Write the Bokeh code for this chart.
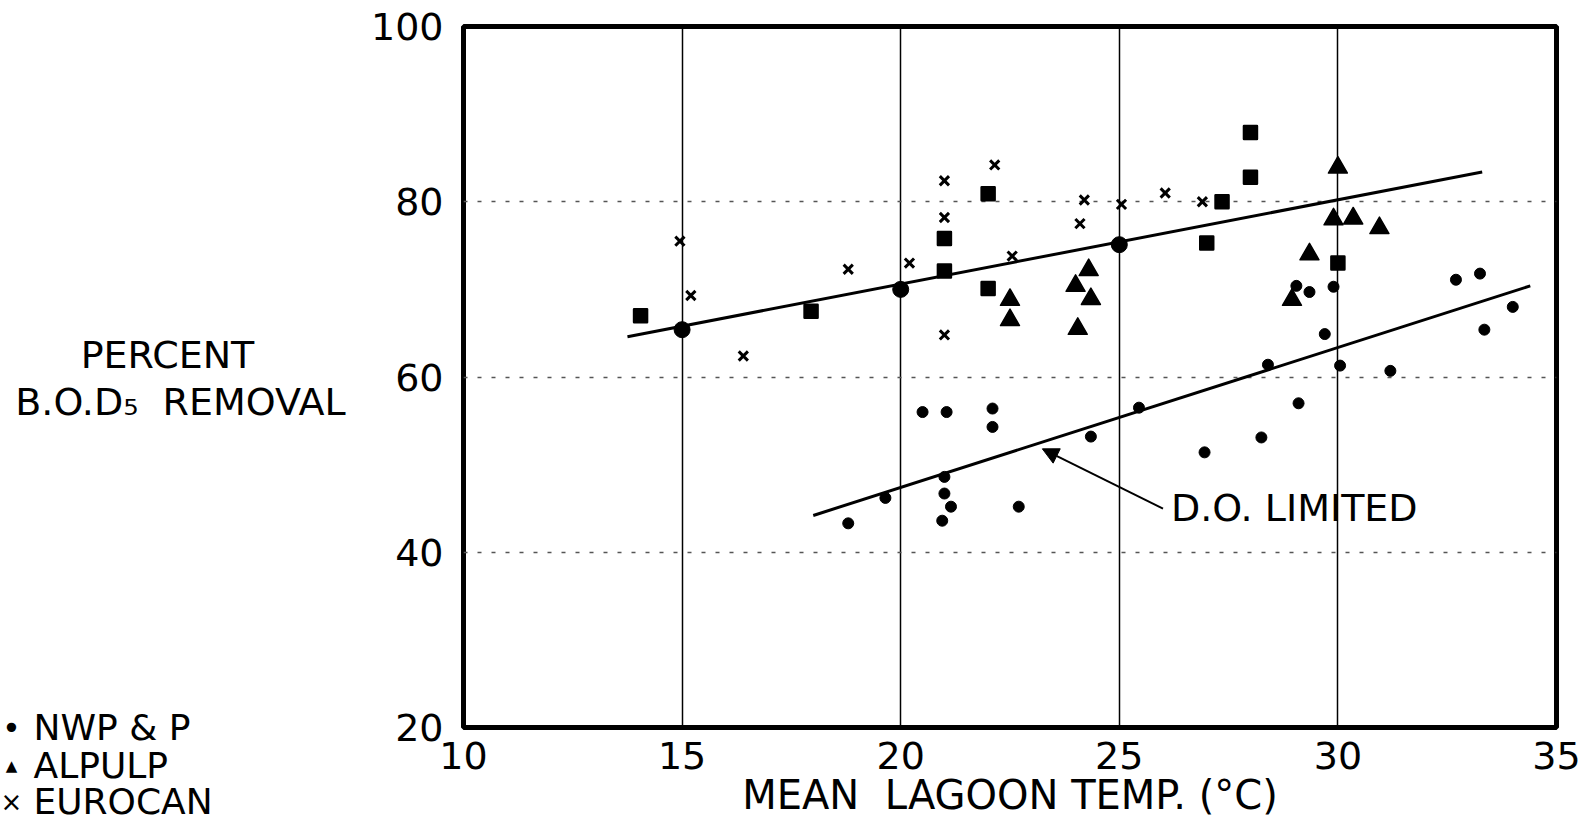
from bokeh.plotting import figure
from bokeh.layouts import row
from bokeh.models import Label, Arrow, NormalHead, FixedTicker, Range1d
from bokeh.core.properties import value
from bokeh.embed import file_html
from bokeh.resources import INLINE

FONT = "DejaVu Sans"

# ---------------- data ----------------
nwp_x = [20.5, 21.05, 22.1, 22.1, 24.35, 25.45, 21.0, 21.0, 21.15, 20.95, 19.65, 18.8, 22.7,
         26.95, 28.25, 29.1, 28.4, 29.7, 30.05, 31.2, 29.05, 29.35, 29.9, 32.7, 33.25, 34.0, 33.35]
nwp_y = [56.0, 56.0, 56.4, 54.3, 53.2, 56.5, 48.6, 46.7, 45.2, 43.6, 46.2, 43.3, 45.2,
         51.4, 53.1, 57.0, 61.4, 64.9, 61.3, 60.7, 70.4, 69.7, 70.3, 71.1, 71.8, 68.0, 65.4]

alpulp_x = [22.5, 22.5, 24.3, 24.0, 24.35, 24.05, 30.0, 29.9, 30.35, 30.95, 29.35, 28.95]
alpulp_y = [68.8, 66.5, 72.2, 70.4, 68.9, 65.5, 83.9, 78.0, 78.1, 77.0, 74.0, 68.8]

eurocan_x = [14.95, 15.2, 16.4, 18.8, 20.2, 21.0, 21.0, 21.0, 22.15, 22.55, 24.1, 24.2, 25.05, 26.05, 26.9]
eurocan_y = [75.5, 69.3, 62.4, 72.3, 73.0, 82.4, 78.2, 64.8, 84.2, 73.8, 77.5, 80.2, 79.7, 81.0, 80.0]

square_x = [14.05, 17.95, 21.0, 21.0, 22.0, 22.0, 27.35, 28.0, 28.0, 27.0, 30.0]
square_y = [67.0, 67.5, 75.8, 72.1, 80.9, 70.1, 80.0, 87.9, 82.8, 75.3, 73.0]

bigdot_x = [15.0, 20.0, 25.0]
bigdot_y = [65.4, 70.0, 75.1]

upper_fit_x = [13.75, 33.3]
upper_fit_y = [64.6, 83.4]
lower_fit_x = [18.0, 34.4]
lower_fit_y = [44.2, 70.4]

x_ticks = [10, 15, 20, 25, 30, 35]
y_ticks = [20, 40, 60, 80, 100]
x_grid = [15, 20, 25, 30]
y_grid = [40, 60, 80]

x_title = "MEAN\u00A0\u00A0LAGOON TEMP. (\u00B0C)"
y_title_lines = ["PERCENT", "B.O.D\u2085\u00A0\u00A0REMOVAL"]
legend_names = ["NWP\u00A0&\u00A0P", "ALPULP", "EUROCAN"]
legend_symbols = ["\u2022", "\u25B2", "\u00D7"]

LEFT_W = 350
W, H = 1586, 824

# ---------------- left panel: y title and key ----------------
side = figure(width=LEFT_W, height=H, output_backend="svg", toolbar_location=None,
              title=None, x_range=Range1d(0, LEFT_W), y_range=Range1d(0, H),
              x_axis_type=None, y_axis_type=None,
              min_border=0, min_border_left=0, min_border_right=0,
              min_border_top=0, min_border_bottom=0)
side.frame_align = False
side.grid.visible = False
side.outline_line_color = None
side.background_fill_color = "white"
side.border_fill_color = "white"

# y title (pixel positions measured from the top of the page)
side.text(x=[167, 180], y=[H - 354, H - 401], text=y_title_lines,
          text_font=value(FONT), text_font_size="38px", text_align="center",
          text_baseline="middle", text_color="black")

# key
key_py = [727, 765, 801]
side.text(x=[11], y=[H - key_py[0]], text=[legend_symbols[0]], text_font=value(FONT),
          text_font_size="32px", text_align="center", text_baseline="middle")
side.text(x=[11], y=[H - key_py[1]], text=[legend_symbols[1]], text_font=value(FONT),
          text_font_size="15px", text_align="center", text_baseline="middle")
side.text(x=[11], y=[H - key_py[2]], text=[legend_symbols[2]], text_font=value(FONT),
          text_font_size="26px", text_align="center", text_baseline="middle")
side.text(x=[33, 33, 33], y=[H - v for v in key_py], text=legend_names,
          text_font=value(FONT), text_font_size="36px", text_align="left",
          text_baseline="middle", text_color="black")

# ---------------- main plot ----------------
p = figure(width=W - LEFT_W, height=H, output_backend="svg", toolbar_location=None,
           title=None, x_range=Range1d(10, 35), y_range=Range1d(20, 100),
           min_border_left=463 - LEFT_W, min_border_right=30, min_border_top=26,
           min_border_bottom=97)
p.frame_align = False
p.background_fill_color = "white"
p.border_fill_color = "white"
p.outline_line_color = "black"
p.outline_line_width = 5

for ax in (p.xaxis[0], p.yaxis[0]):
    ax.axis_line_color = None
    ax.major_tick_line_color = None
    ax.minor_tick_line_color = None
    ax.major_label_text_font = FONT
    ax.major_label_text_font_size = "38px"
    ax.major_label_text_color = "black"

p.xaxis.ticker = FixedTicker(ticks=x_ticks)
p.yaxis.ticker = FixedTicker(ticks=y_ticks)
p.xaxis.major_label_standoff = 8
p.yaxis.major_label_standoff = 14
p.xaxis.axis_label = x_title
p.xaxis.axis_label_text_font = FONT
p.xaxis.axis_label_text_font_size = "40px"
p.xaxis.axis_label_text_font_style = "normal"
p.xaxis.axis_label_text_color = "black"
p.xaxis.axis_label_standoff = 0

p.xgrid.ticker = FixedTicker(ticks=x_grid)
p.ygrid.ticker = FixedTicker(ticks=y_grid)
p.xgrid.grid_line_color = "black"
p.xgrid.grid_line_width = 1.5
p.ygrid.grid_line_color = "#555555"
p.ygrid.grid_line_width = 1.3
p.ygrid.grid_line_dash = "4 10"

# fitted lines
p.line(upper_fit_x, upper_fit_y, line_color="black", line_width=3)
p.line(lower_fit_x, lower_fit_y, line_color="black", line_width=3)

# series
p.scatter(nwp_x, nwp_y, marker="circle", size=11, fill_color="black", line_color="black")
p.scatter(alpulp_x, alpulp_y, marker="triangle", size=19, fill_color="black", line_color="black",
          line_width=1.5, line_join="round")
p.scatter(eurocan_x, eurocan_y, marker="x", size=13, line_color="black", line_width=3)
p.scatter(square_x, square_y, marker="square", size=13, fill_color="black", line_color="black",
          line_width=2.5, line_join="round")
p.scatter(bigdot_x, bigdot_y, marker="circle", size=16, fill_color="black", line_color="black")

# annotation arrow + label
p.add_layout(Arrow(end=NormalHead(size=16, fill_color="black", line_color="black"),
                   x_start=26.0, y_start=44.97, x_end=23.24, y_end=51.8,
                   line_color="black", line_width=2))
p.add_layout(Label(x=26.18, y=45.06, text="D.O. LIMITED", text_font=FONT,
                   text_font_size="38px", text_baseline="middle", text_align="left",
                   text_color="black"))

layout = row(side, p, spacing=0)
open("out.html", "w").write(file_html(layout, INLINE))
